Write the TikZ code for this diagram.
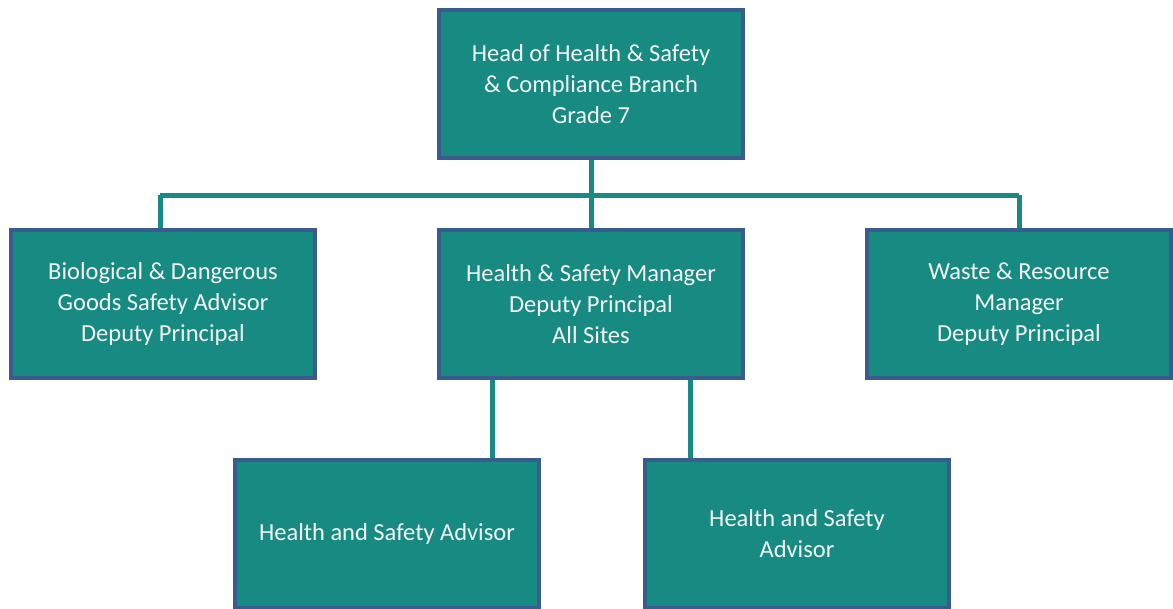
\documentclass[tikz,border=0pt]{standalone}
\usepackage{fontspec}
\setmainfont{Carlito}
\definecolor{tealfill}{HTML}{178A82}
\definecolor{boxborder}{HTML}{3A5B8E}
\definecolor{txt}{HTML}{F2F4F4}
\begin{document}
\begin{tikzpicture}[x=1pt,y=-1pt,
  orgbox/.style={draw=boxborder,line width=4pt,fill=tealfill,minimum width=304pt,minimum height=148pt,
    text=txt,align=center,font=\fontsize{24.5}{31}\selectfont,inner sep=0pt},
  link/.style={draw=tealfill,line width=5pt}]
\useasboundingbox (0,0) rectangle (1173,608);
\node[orgbox] (head) at (591,84) {Head of Health \& Safety\\\& Compliance Branch\\Grade 7};
\node[orgbox] (bio) at (163,304) {Biological \& Dangerous\\Goods Safety Advisor\\Deputy Principal};
\node[orgbox] (hsm) at (591,304) {Health \& Safety Manager\\Deputy Principal\\All Sites};
\node[orgbox] (waste) at (1019,304) {Waste \& Resource\\Manager\\Deputy Principal};
\node[orgbox] (adv1) at (387,534) {Health and Safety Advisor};
\node[orgbox] (adv2) at (797,534) {Health and Safety\\Advisor};
\coordinate (jl) at (160,195);
\coordinate (jr) at (1019,195);
\path[link] (head.south) -- (hsm.north);
\path[link] (jl) -- (jr);
\path[link] (jl) -- (jl |- bio.north);
\path[link] (jr) -- (jr |- waste.north);
\path[link] (hsm.south -| 492,0) -- (adv1.north -| 492,0);
\path[link] (hsm.south -| 690,0) -- (adv2.north -| 690,0);
\end{tikzpicture}
\end{document}
